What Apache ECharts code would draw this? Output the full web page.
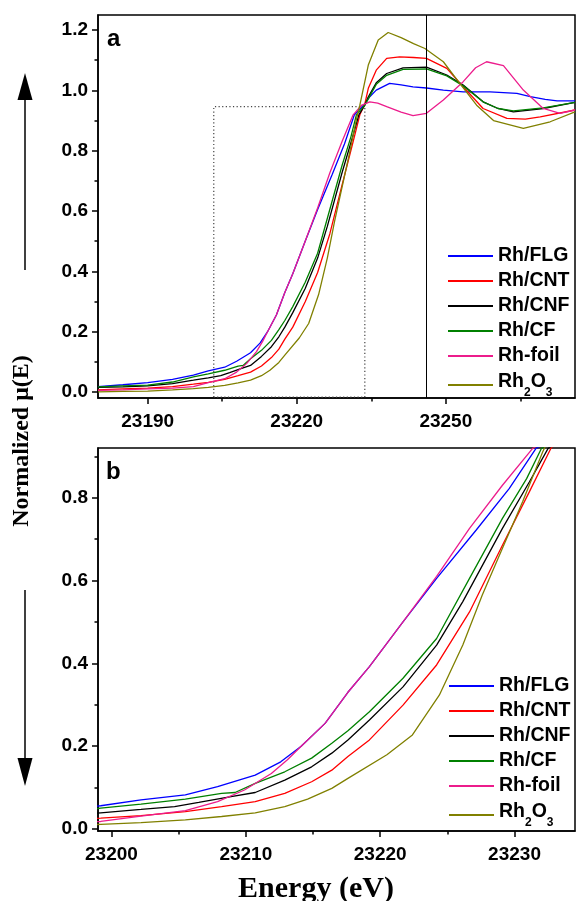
<!DOCTYPE html>
<html><head><meta charset="utf-8">
<script src="https://cdn.jsdelivr.net/npm/echarts@6/dist/echarts.min.js"></script>
<style>html,body{margin:0;padding:0;background:#fff}#c{width:576px;height:901px}</style>
</head><body><div id="c"></div>
<script>
// ---------- data ----------
const seriesNames = ['Rh/FLG', 'Rh/CNT', 'Rh/CNF', 'Rh/CF', 'Rh-foil', 'Rh2O3'];

const energyFLG = [23180,23185,23190,23195,23199.2,23202.2,23205.5,23207.9,23210.7,23212.6,23214.1,23215.9,23217.6,23219.2,23221.7,23224.2,23227.15,23229.6,23231.6,23233.7,23234.7,23236,23238.7,23241,23243.4,23246.1,23249.5,23253.5,23258.9,23264.3,23267,23270,23272.4,23276];
const muFLG     = [0.018,0.024,0.031,0.042,0.056,0.070,0.082,0.102,0.130,0.162,0.199,0.255,0.330,0.392,0.500,0.605,0.722,0.822,0.919,0.955,0.979,1.001,1.023,1.018,1.012,1.008,1.001,0.995,0.995,0.990,0.979,0.970,0.965,0.965];

const energyCNT = [23180,23185,23190,23195,23199.2,23202.2,23205.5,23208.2,23210.7,23212.9,23214.9,23216.4,23217.6,23219.2,23221.7,23224.2,23226.65,23229.1,23231.1,23232.7,23233.7,23234.4,23236,23238.1,23240.7,23243.5,23246.1,23250.2,23253.5,23257.5,23262.3,23266,23269,23276];
const muCNT     = [0.007,0.010,0.013,0.018,0.026,0.032,0.042,0.054,0.066,0.086,0.114,0.142,0.175,0.215,0.299,0.396,0.524,0.685,0.814,0.919,0.955,1.007,1.067,1.106,1.111,1.109,1.106,1.073,1.012,0.940,0.907,0.905,0.912,0.935];

const energyCNF = [23180,23185,23190,23195,23199.2,23202.2,23204.7,23206.5,23208.9,23210.7,23212.9,23214.9,23216.4,23217.6,23219.2,23221.7,23224.2,23226.15,23229.1,23231.1,23232.5,23233.7,23234.3,23236,23238.1,23241.4,23246.1,23250.2,23253.5,23257.5,23260.5,23263.6,23269.6,23276];
const muCNF     = [0.015,0.017,0.020,0.028,0.039,0.047,0.054,0.064,0.078,0.088,0.118,0.150,0.183,0.215,0.263,0.343,0.444,0.549,0.726,0.838,0.919,0.951,0.975,1.025,1.056,1.075,1.077,1.051,1.018,0.962,0.940,0.929,0.940,0.960];

const energyCF  = [23180,23185,23190,23195,23199.2,23202.2,23205.5,23208.2,23209.2,23210.7,23212.9,23214.9,23216.4,23217.6,23219.2,23221.7,23224.2,23226.65,23229.1,23230.9,23232.0,23233.7,23234.5,23236,23238.1,23241.4,23246.1,23250.2,23253.5,23257.5,23260.5,23263.6,23269.6,23276];
const muCF      = [0.017,0.020,0.023,0.033,0.050,0.060,0.072,0.086,0.088,0.110,0.138,0.171,0.207,0.237,0.283,0.364,0.460,0.605,0.750,0.846,0.919,0.951,0.975,1.020,1.050,1.070,1.071,1.048,1.015,0.962,0.940,0.932,0.942,0.960];

const energyFoil = [23180,23185,23190,23195,23199.2,23202.2,23205.5,23207.9,23209.9,23211.9,23213.1,23214.1,23215.9,23217.6,23219.2,23221.7,23224.2,23226.65,23229.1,23231.35,23233.0,23234.7,23236.3,23238.1,23241,23243.4,23246.1,23249.5,23253.5,23256,23258.2,23261.6,23265.6,23269.6,23273,23276];
const muFoil     = [0.005,0.007,0.010,0.013,0.018,0.031,0.044,0.066,0.094,0.134,0.167,0.199,0.255,0.330,0.392,0.500,0.610,0.726,0.830,0.919,0.950,0.962,0.958,0.946,0.928,0.916,0.924,0.968,1.029,1.075,1.095,1.082,1.001,0.940,0.924,0.935];

const energyRh2O3 = [23180,23185,23190,23195,23199.2,23202.2,23205.5,23208.2,23210.7,23212.9,23214.6,23216.4,23217.6,23220.5,23222.4,23224.4,23226.15,23227.6,23229.1,23230.6,23232.1,23232.7,23234.4,23236.4,23238.4,23241,23243.5,23245.8,23249.5,23252.8,23256.2,23259.6,23265.6,23271,23276];
const muRh2O3     = [0.000,0.002,0.003,0.007,0.011,0.015,0.022,0.030,0.039,0.054,0.072,0.098,0.122,0.179,0.227,0.323,0.444,0.565,0.678,0.790,0.911,0.951,1.084,1.167,1.192,1.175,1.155,1.139,1.095,1.023,0.951,0.900,0.874,0.896,0.929];

const zoomBoxE  = [23203.3, 23203.3, 23233.7, 23233.7, 23203.3];
const zoomBoxMu = [-0.017, 0.946, 0.946, -0.017, -0.017];
const edgeMarkerE = 23246.1;

const topXTicks = [23190, 23220, 23250];
const topXMinorTicks = [23205, 23235, 23265];
const topYTicks = [0, 0.2, 0.4, 0.6, 0.8, 1.0, 1.2];
const topYMinorTicks = [0.1, 0.3, 0.5, 0.7, 0.9, 1.1];
const botXTicks = [23200, 23210, 23220, 23230];
const botXMinorTicks = [23205, 23215, 23225];
const botYTicks = [0, 0.2, 0.4, 0.6, 0.8];
const botYMinorTicks = [0.1, 0.3, 0.5, 0.7, 0.9];

// ---------- style ----------
const colors = ['#0000FF', '#FF0000', '#000000', '#008000', '#EC1C8C', '#808000'];
const SANS = 'Liberation Sans, Arial, sans-serif';
const SERIF = 'Liberation Serif, Times New Roman, serif';

const seriesData = [
  [energyFLG, muFLG], [energyCNT, muCNT], [energyCNF, muCNF],
  [energyCF, muCF], [energyFoil, muFoil], [energyRh2O3, muRh2O3]
];
function zip(xs, ys) { return xs.map((x, i) => [x, ys[i]]); }

const tickLabel = { show: true, fontFamily: SANS, fontWeight: 'bold', fontSize: 19, color: '#000' };
const tickLine = { color: '#000', width: 1.5 };

function xAxisDef(gridIndex, range, ticks, minor) {
  return { type: 'value', gridIndex, min: range[0], max: range[1], position: 'bottom',
    axisLine: { show: !minor, onZero: false, lineStyle: tickLine },
    axisTick: { show: true, inside: false, length: minor ? 3.5 : 6, customValues: ticks, lineStyle: tickLine },
    axisLabel: minor ? { show: false } : Object.assign({ customValues: ticks, margin: 14, formatter: v => String(v) }, tickLabel),
    splitLine: { show: false } };
}
function yAxisDef(gridIndex, range, ticks, minor) {
  return { type: 'value', gridIndex, min: range[0], max: range[1], position: 'left',
    axisLine: { show: !minor, onZero: false, lineStyle: tickLine },
    axisTick: { show: true, inside: false, length: minor ? 3.5 : 6, customValues: ticks, lineStyle: tickLine },
    axisLabel: minor ? { show: false } : Object.assign({ customValues: ticks, margin: 10, formatter: v => v.toFixed(1) }, tickLabel),
    splitLine: { show: false } };
}

const TOPX = [23180, 23276], TOPY = [-0.02, 1.25];
const BOTX = [23199, 23234.5], BOTY = [-0.005, 0.92];

const series = [];
seriesNames.forEach((name, i) => {
  [0, 2].forEach(ax => {
    series.push({ name, type: 'line', xAxisIndex: ax, yAxisIndex: ax, symbol: 'none', showSymbol: false,
      smooth: false, clip: true, z: 3, color: colors[i],
      lineStyle: { color: colors[i], width: 1.3 },
      data: zip(seriesData[i][0], seriesData[i][1]) });
  });
});
series.push({ name: 'zoomBox', type: 'line', xAxisIndex: 0, yAxisIndex: 0, symbol: 'none', silent: true, z: 2,
  lineStyle: { color: '#444', width: 1.2, type: [1.2, 2.4] },
  data: zip(zoomBoxE, zoomBoxMu),
  markLine: { silent: true, symbol: ['none', 'none'], label: { show: false },
    lineStyle: { color: '#000', width: 1, type: 'solid' },
    data: [{ xAxis: edgeMarkerE }] } });

function legendFmt(name) {
  if (name === 'Rh2O3') return '{n|Rh}{s|2}{n|O}{s|3}';
  return name;
}
const legendText = { fontFamily: SANS, fontWeight: 'bold', fontSize: 19.5, color: '#000',
  rich: {
    n: { fontFamily: SANS, fontWeight: 'bold', fontSize: 19.5, color: '#000', lineHeight: 22, padding: [0, 0, 7, 0], verticalAlign: 'middle' },
    s: { fontFamily: SANS, fontWeight: 'bold', fontSize: 12, color: '#000', lineHeight: 12, padding: [16, 0, 0, 0], verticalAlign: 'middle' }
  } };
const lineIcon = 'path://M0,0L0,0M0,9.1L45,9.1L45,10.9L0,10.9ZM45,20L45,20';
function mkLegend(left, top) {
  return { data: seriesNames.map(n => ({ name: n, icon: lineIcon })), orient: 'vertical', left, top,
    padding: 0, itemGap: 5, itemWidth: 45, itemHeight: 20, selectedMode: false,
    formatter: legendFmt, textStyle: legendText };
}

const option = {
  animation: false,
  backgroundColor: '#fff',
  grid: [
    { left: 98, top: 15, width: 477, height: 383, show: true, borderColor: '#000', borderWidth: 1.5, backgroundColor: 'transparent', outerBoundsMode: 'none', containLabel: false },
    { left: 98, top: 448, width: 477, height: 383, show: true, borderColor: '#000', borderWidth: 1.5, backgroundColor: 'transparent', outerBoundsMode: 'none', containLabel: false }
  ],
  xAxis: [
    xAxisDef(0, TOPX, topXTicks, false), xAxisDef(0, TOPX, topXMinorTicks, true),
    xAxisDef(1, BOTX, botXTicks, false), xAxisDef(1, BOTX, botXMinorTicks, true)
  ],
  yAxis: [
    yAxisDef(0, TOPY, topYTicks, false), yAxisDef(0, TOPY, topYMinorTicks, true),
    yAxisDef(1, BOTY, botYTicks, false), yAxisDef(1, BOTY, botYMinorTicks, true)
  ],
  legend: [mkLegend(448, 246), mkLegend(449, 676)],
  series,
  graphic: [
    { type: 'text', left: 107, top: 27, style: { text: 'a', font: 'bold 24px ' + SANS, fill: '#000' } },
    { type: 'text', left: 106, top: 460, style: { text: 'b', font: 'bold 24px ' + SANS, fill: '#000' } },
    { type: 'text', x: 22, y: 441, rotation: Math.PI / 2,
      style: { text: 'Normalized \u03bc(E)', x: 0, y: 0, font: 'bold 24px ' + SERIF, fill: '#000',
        textAlign: 'center', textVerticalAlign: 'middle', align: 'center', verticalAlign: 'middle' } },
    { type: 'text', x: 316, y: 889,
      style: { text: 'Energy (eV)', x: 0, y: 0, font: 'bold 30px ' + SERIF, fill: '#000',
        textAlign: 'center', textVerticalAlign: 'middle', align: 'center', verticalAlign: 'middle' } },
    { type: 'line', shape: { x1: 25, y1: 270, x2: 25, y2: 98 }, style: { stroke: '#000', lineWidth: 1.5 } },
    { type: 'polygon', shape: { points: [[25, 73], [17.5, 100], [32.5, 100]] }, style: { fill: '#000' } },
    { type: 'line', shape: { x1: 25, y1: 590, x2: 25, y2: 760 }, style: { stroke: '#000', lineWidth: 1.5 } },
    { type: 'polygon', shape: { points: [[25, 786], [17.5, 758], [32.5, 758]] }, style: { fill: '#000' } }
  ]
};
const chart = echarts.init(document.getElementById('c'), null, { renderer: 'canvas' });
chart.setOption(option);
</script></body></html>
